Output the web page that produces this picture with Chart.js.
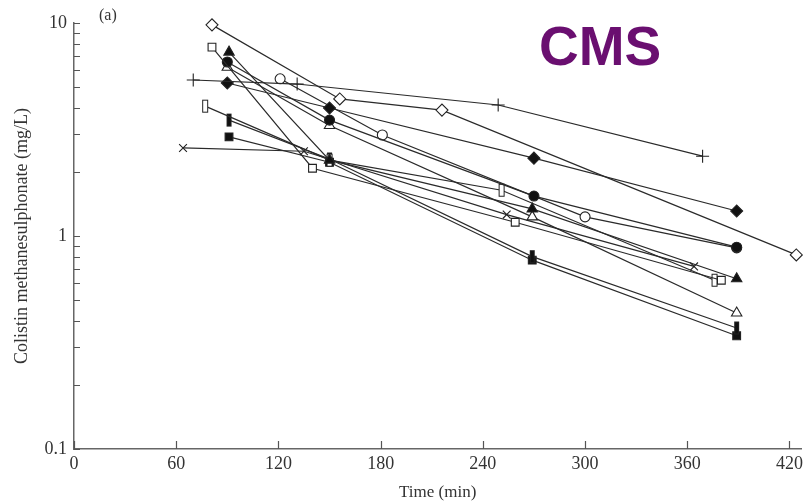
<!DOCTYPE html>
<html>
<head>
<meta charset="utf-8">
<script src="https://cdn.jsdelivr.net/npm/chart.js@4.4.0/dist/chart.umd.min.js"></script>
<style>
html, body { margin: 0; padding: 0; background: #fff; }
</style>
</head>
<body>
<canvas id="chart" width="809" height="504"></canvas>
<script>
// Valores (tiempo en min, concentración en mg/L)
const xTickValues = [0, 60, 120, 180, 240, 300, 360, 420];
const yTickLabels = [0.1, 1, 10];
const yTickMarks = [0.1, 0.2, 0.3, 0.4, 0.5, 0.6, 0.7, 0.8, 0.9, 1, 2, 3, 4, 5, 6, 7, 8, 9, 10];

const openDiamondT = [81, 156, 216, 424];
const openDiamondC = [9.8, 4.4, 3.9, 0.815];
const openSquareT = [81, 140, 259, 380];
const openSquareC = [7.7, 2.08, 1.16, 0.62];
const filledTriangleT = [91, 150, 269, 389];
const filledTriangleC = [7.3, 2.27, 1.34, 0.63];
const filledCircleT = [90, 150, 270, 389];
const filledCircleC = [6.56, 3.5, 1.54, 0.886];
const openTriangleT = [90, 150, 269, 389];
const openTriangleC = [6.2, 3.3, 1.23, 0.435];
const plusT = [70, 131, 249, 369];
const plusC = [5.4, 5.17, 4.12, 2.37];
const filledDiamondT = [90, 150, 270, 389];
const filledDiamondC = [5.23, 3.99, 2.32, 1.31];
const openCircleT = [121, 181, 300, 389];
const openCircleC = [5.47, 2.98, 1.23, 0.88];
const openBarT = [77, 150, 251, 376];
const openBarC = [4.07, 2.27, 1.64, 0.62];
const filledBarT = [91, 150, 269, 389];
const filledBarC = [3.5, 2.3, 0.8, 0.37];
const filledSquareT = [91, 150, 269, 389];
const filledSquareC = [2.92, 2.22, 0.77, 0.34];
const crossT = [64, 135, 254, 364];
const crossC = [2.59, 2.5, 1.26, 0.72];

const ink = '#222';

function barMarker(w, h, fill) {
    const c = document.createElement('canvas');
    c.width = w + 2;
    c.height = h + 2;
    const g = c.getContext('2d');
    g.fillStyle = fill;
    g.fillRect(1, 1, w, h);
    g.strokeStyle = ink;
    g.lineWidth = 1;
    g.strokeRect(1.5, 1.5, w - 1, h - 1);
    return c;
}

function serie(times, values, style, filled, radius) {
    return {
        data: times.map((t, i) => ({ x: t, y: values[i] })),
        borderColor: '#2a2a2a',
        borderWidth: 1.2,
        pointStyle: style,
        pointRadius: radius || 5,
        pointBorderWidth: 1.1,
        pointBorderColor: ink,
        pointBackgroundColor: filled ? '#111' : '#fff',
        tension: 0,
        fill: false,
        clip: false
    };
}

const datasets = [
    serie(openDiamondT, openDiamondC, 'rectRot', false, 6),
    serie(openSquareT, openSquareC, 'rect', false, 5.5),
    serie(filledTriangleT, filledTriangleC, 'triangle', true, 6),
    serie(filledCircleT, filledCircleC, 'circle', true, 5),
    serie(openTriangleT, openTriangleC, 'triangle', false, 6),
    serie(plusT, plusC, 'cross', false, 6.5),
    serie(filledDiamondT, filledDiamondC, 'rectRot', true, 6),
    serie(openCircleT, openCircleC, 'circle', false, 5),
    serie(openBarT, openBarC, barMarker(6, 13, '#fff'), false),
    serie(filledBarT, filledBarC, barMarker(5, 13, '#111'), true),
    serie(filledSquareT, filledSquareC, 'rect', true, 5.5),
    serie(crossT, crossC, 'crossRot', false, 5.5)
];

// Marcas de escala hacia adentro y textos sueltos
const inwardTicks = {
    id: 'inwardTicks',
    afterDraw(chart) {
        const { ctx, chartArea, scales } = chart;
        ctx.save();
        ctx.strokeStyle = '#555';
        ctx.lineWidth = 1.2;
        ctx.beginPath();
        xTickValues.forEach(v => {
            const px = Math.round(scales.x.getPixelForValue(v)) + 0.5;
            ctx.moveTo(px, chartArea.bottom);
            ctx.lineTo(px, chartArea.bottom - 8);
        });
        yTickMarks.forEach(v => {
            const py = Math.round(scales.y.getPixelForValue(v)) + 0.5;
            ctx.moveTo(chartArea.left, py);
            ctx.lineTo(chartArea.left + 6, py);
        });
        ctx.stroke();

        ctx.fillStyle = '#333';
        ctx.font = '16px "Liberation Serif"';
        ctx.textBaseline = 'alphabetic';
        ctx.fillText('(a)', 99, 20);

        ctx.fillStyle = '#6a0f70';
        ctx.font = 'bold 55px "Liberation Sans"';
        ctx.fillText('CMS', 539, 65);
        ctx.restore();
    }
};

new Chart(document.getElementById('chart').getContext('2d'), {
    type: 'line',
    data: { datasets: datasets },
    options: {
        responsive: false,
        animation: false,
        layout: { padding: { top: 23, right: 2, left: 0, bottom: 0 } },
        plugins: {
            legend: { display: false },
            tooltip: { enabled: false }
        },
        scales: {
            x: {
                type: 'linear',
                min: 0,
                max: 427,
                afterBuildTicks: s => { s.ticks = xTickValues.map(v => ({ value: v })); },
                afterFit: s => { s.height = 55; s.paddingLeft = 0; s.paddingRight = 0; },
                grid: { display: false, drawTicks: false },
                border: { display: true, color: '#666', width: 1.5 },
                ticks: {
                    padding: 4,
                    color: '#333',
                    font: { family: 'Liberation Serif', size: 18 }
                },
                title: {
                    display: true,
                    text: 'Time (min)',
                    color: '#333',
                    padding: { top: 0, bottom: 1 },
                    font: { family: 'Liberation Serif', size: 17 }
                }
            },
            y: {
                type: 'logarithmic',
                min: 0.1,
                max: 10,
                afterBuildTicks: s => { s.ticks = yTickLabels.map(v => ({ value: v })); },
                afterFit: s => { s.width = 74; s.paddingTop = 0; s.paddingBottom = 0; },
                grid: { display: false, drawTicks: false },
                border: { display: true, color: '#666', width: 1.5 },
                ticks: {
                    padding: 7,
                    color: '#333',
                    autoSkip: false,
                    font: { family: 'Liberation Serif', size: 18 },
                    callback: v => String(v)
                },
                title: {
                    display: true,
                    text: 'Colistin methanesulphonate (mg/L)',
                    color: '#333',
                    padding: { top: 11, bottom: 0 },
                    font: { family: 'Liberation Serif', size: 18 }
                }
            }
        }
    },
    plugins: [inwardTicks]
});
</script>
</body>
</html>
